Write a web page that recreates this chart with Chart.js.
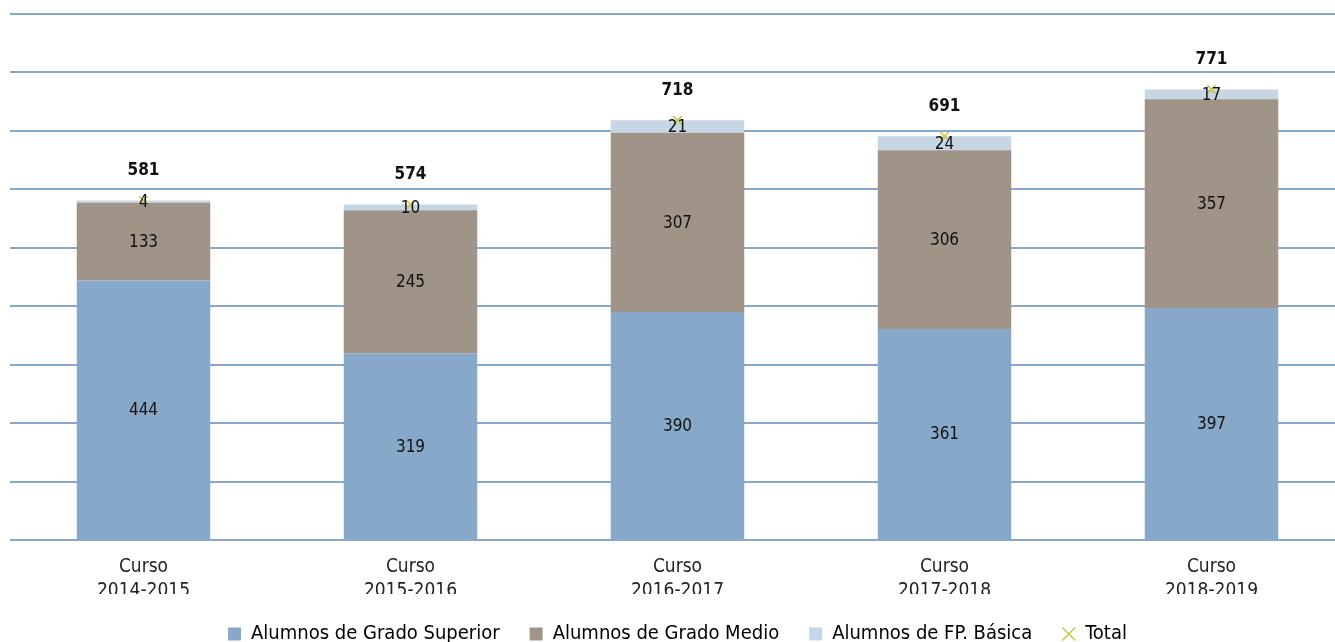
<!DOCTYPE html>
<html>
<head>
<meta charset="utf-8">
<script src="https://cdn.jsdelivr.net/npm/chart.js"></script>
<style>
  html, body { margin: 0; padding: 0; background: #fff; overflow: hidden; }
  #wrap { width: 1335px; height: 642px; overflow: hidden; position: relative; }
  #holder { position: absolute; left: 0; top: 0; width: 1372px; height: 654px; }
</style>
</head>
<body>
<div id="wrap"><div id="holder"><canvas id="myChart"></canvas></div></div>
<script>
  const categories = [['Curso', '2014-2015'], ['Curso', '2015-2016'], ['Curso', '2016-2017'], ['Curso', '2017-2018'], ['Curso', '2018-2019']];
  const gradoSuperior = [444, 319, 390, 361, 397];
  const gradoMedio = [133, 245, 307, 306, 357];
  const fpBasica = [4, 10, 21, 24, 17];
  const totals = [581, 574, 718, 691, 771];

  const FONT = '"DejaVu Sans Condensed", "Liberation Sans", Arial, sans-serif';

  // writes values inside the segments and the totals above the bars
  const valueLabels = {
    id: 'valueLabels',
    afterDatasetsDraw(chart) {
      const ctx = chart.ctx;
      ctx.save();
      ctx.textAlign = 'center';
      ctx.textBaseline = 'middle';
      ctx.fillStyle = '#111';
      for (let d = 0; d < 3; d++) {
        const meta = chart.getDatasetMeta(d);
        meta.data.forEach((bar, i) => {
          const v = chart.data.datasets[d].data[i];
          ctx.font = '17px ' + FONT;
          ctx.fillText(v, bar.x, (bar.y + bar.base) / 2 + 1);
        });
      }
      const tm = chart.getDatasetMeta(3);
      tm.data.forEach((pt, i) => {
        ctx.font = 'bold 17px ' + FONT;
        ctx.fillText(totals[i], pt.x, pt.y - 30);
      });
      ctx.restore();
    }
  };

  new Chart(document.getElementById('myChart'), {
    type: 'bar',
    data: {
      labels: categories,
      datasets: [
        { label: 'Alumnos de Grado Superior', data: gradoSuperior, backgroundColor: '#87a8c8', stack: 's', order: 2 },
        { label: 'Alumnos de Grado Medio', data: gradoMedio, backgroundColor: '#a09488', stack: 's', order: 2 },
        { label: 'Alumnos de FP. Básica', data: fpBasica, backgroundColor: '#c6d6e4', stack: 's', order: 2 },
        { label: 'Total', type: 'line', data: totals, showLine: false, pointStyle: 'crossRot',
          pointRadius: 6, pointBorderWidth: 1.5, borderColor: '#c9c64a', backgroundColor: '#c9c64a', order: 1 }
      ]
    },
    options: {
      responsive: true,
      maintainAspectRatio: false,
      animation: false,
      layout: { padding: { left: 10, right: 27, top: 14, bottom: 0 } },
      datasets: { bar: { categoryPercentage: 1, barPercentage: 0.5 } },
      scales: {
        x: {
          stacked: true,
          grid: { display: false, drawTicks: false },
          border: { display: false },
          ticks: { color: '#222', font: { family: FONT, size: 19, lineHeight: 1.25 }, padding: 15 },
          afterFit(scale) { scale.height = 54; }
        },
        y: {
          stacked: true,
          min: 0, max: 900,
          ticks: { display: false, stepSize: 100 },
          grid: { color: '#86a8cc', lineWidth: 2, drawTicks: false },
          border: { display: false }
        }
      },
      plugins: {
        legend: {
          position: 'bottom',
          labels: {
            usePointStyle: true,
            color: '#111',
            font: { family: FONT, size: 20 },
            boxWidth: 13, boxHeight: 13,
            padding: 30,
            generateLabels(chart) {
              return chart.data.datasets.map((ds, i) => ({
                text: ds.label,
                fillStyle: ds.backgroundColor,
                strokeStyle: i === 3 ? '#c9c64a' : ds.backgroundColor,
                lineWidth: i === 3 ? 1.5 : 0,
                pointStyle: i === 3 ? 'crossRot' : 'rect',
                datasetIndex: i,
                hidden: false
              }));
            }
          }
        },
        tooltip: { enabled: false }
      }
    },
    plugins: [valueLabels]
  });
</script>
</body>
</html>
